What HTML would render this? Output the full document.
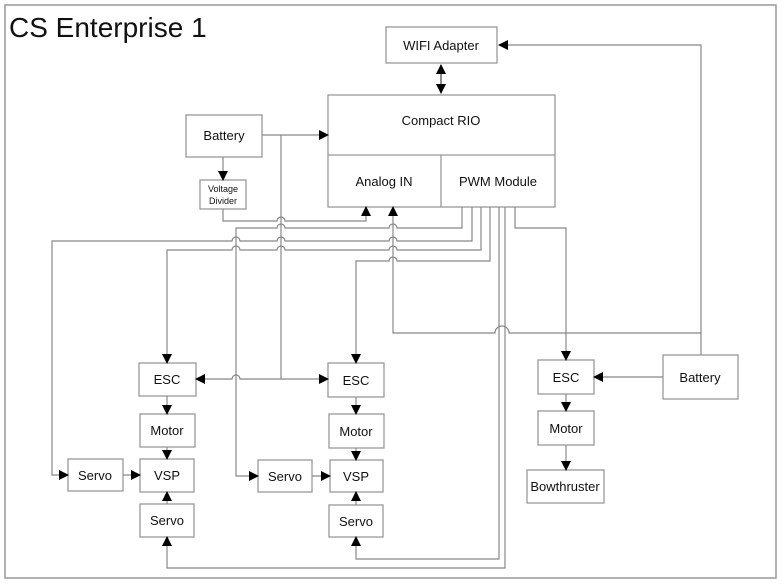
<!DOCTYPE html>
<html><head><meta charset="utf-8"><style>
html,body{margin:0;padding:0;background:#fff;}
svg{display:block;}
text{font-family:"Liberation Sans",sans-serif;fill:#111;}
</style></head><body>
<svg width="782" height="586" viewBox="0 0 782 586" xmlns="http://www.w3.org/2000/svg">
<defs>
<marker id="a" markerWidth="10" markerHeight="10" refX="9" refY="5" orient="auto" markerUnits="userSpaceOnUse">
<path d="M0,0 L10,5 L0,10 z" fill="#000"/></marker>
<marker id="s" markerWidth="10" markerHeight="10" refX="1" refY="5" orient="auto" markerUnits="userSpaceOnUse">
<path d="M10,0 L0,5 L10,10 z" fill="#000"/></marker>
</defs>
<rect x="5" y="5" width="771" height="573" fill="none" stroke="#999" stroke-width="1.5"/>
<text x="9" y="37" font-size="28">CS Enterprise 1</text>
<g fill="#fff" stroke="#999" stroke-width="1.3">
<rect x="386" y="27" width="111" height="36"/>
<rect x="328" y="95" width="227" height="112"/>
<line x1="328" y1="155" x2="555" y2="155"/>
<line x1="441" y1="155" x2="441" y2="207"/>
<rect x="186" y="115" width="76" height="42"/>
<rect x="200" y="180" width="46" height="29"/>
<rect x="139" y="363" width="57" height="33"/>
<rect x="328" y="363" width="56" height="34"/>
<rect x="140" y="414" width="55" height="33"/>
<rect x="329" y="414" width="55" height="34"/>
<rect x="140" y="459" width="54" height="33"/>
<rect x="330" y="460" width="53" height="32"/>
<rect x="68" y="459" width="55" height="32"/>
<rect x="258" y="460" width="54" height="32"/>
<rect x="140" y="504" width="54" height="33"/>
<rect x="329" y="505" width="54" height="32"/>
<rect x="538" y="360" width="56" height="34"/>
<rect x="538" y="411" width="56" height="34"/>
<rect x="527" y="470" width="77" height="33"/>
<rect x="663" y="355" width="75" height="44"/>
</g>
<g font-size="13" text-anchor="middle">
<text x="441" y="50">WIFI Adapter</text>
<text x="441" y="125">Compact RIO</text>
<text x="384" y="186">Analog IN</text>
<text x="498" y="186">PWM Module</text>
<text x="224" y="140">Battery</text>
<text x="223" y="192" font-size="9">Voltage</text>
<text x="223" y="204" font-size="9">Divider</text>
<text x="167" y="384">ESC</text>
<text x="356" y="385">ESC</text>
<text x="167" y="435">Motor</text>
<text x="356" y="436">Motor</text>
<text x="167" y="480">VSP</text>
<text x="356" y="481">VSP</text>
<text x="95" y="480">Servo</text>
<text x="285" y="481">Servo</text>
<text x="167" y="525">Servo</text>
<text x="356" y="526">Servo</text>
<text x="566" y="382">ESC</text>
<text x="566" y="433">Motor</text>
<text x="565" y="491">Bowthruster</text>
<text x="700" y="382">Battery</text>
</g>
<g fill="none" stroke="#888" stroke-width="1.2">
<path d="M441 65 V93" stroke="#444" marker-start="url(#s)" marker-end="url(#a)"/>
<path d="M701 355 V45 H499" marker-end="url(#a)"/>
<path d="M262 135 H328" marker-end="url(#a)"/>
<path d="M223 157 V180" marker-end="url(#a)"/>
<path d="M281 135 V379 H240 A4 4 0 0 0 232 379 H196" marker-end="url(#a)"/>
<path d="M281 379 H328" marker-end="url(#a)"/>
<path d="M223 209 V221 H277 A4 4 0 0 1 285 221 H366 V207" marker-end="url(#a)"/>
<path d="M462 207 V228 H397 A4 4 0 0 0 389 228 H285 A4 4 0 0 0 277 228 H236 V476 H258" marker-end="url(#a)"/>
<path d="M472 207 V241 H397 A4 4 0 0 0 389 241 H285 A4 4 0 0 0 277 241 H240 A4 4 0 0 0 232 241 H52 V475 H68" marker-end="url(#a)"/>
<path d="M481 207 V250 H397 A4 4 0 0 0 389 250 H285 A4 4 0 0 0 277 250 H240 A4 4 0 0 0 232 250 H167 V363" marker-end="url(#a)"/>
<path d="M490 207 V261 H397 A4 4 0 0 0 389 261 H356 V363" marker-end="url(#a)"/>
<path d="M499 207 V559 H356 V537" marker-end="url(#a)"/>
<path d="M505 207 V568 H167 V537" marker-end="url(#a)"/>
<path d="M515 207 V228 H566 V360" marker-end="url(#a)"/>
<path d="M393 207 V333 H495 A7 7 0 0 1 509 333 H701" marker-start="url(#s)"/>
<path d="M663 377 H594" marker-end="url(#a)"/>
<path d="M167 396 V414" marker-end="url(#a)"/>
<path d="M356 397 V414" marker-end="url(#a)"/>
<path d="M167 447 V459" marker-end="url(#a)"/>
<path d="M356 448 V460" marker-end="url(#a)"/>
<path d="M123 475 H140" marker-end="url(#a)"/>
<path d="M312 476 H330" marker-end="url(#a)"/>
<path d="M167 504 V492" marker-end="url(#a)"/>
<path d="M356 505 V492" marker-end="url(#a)"/>
<path d="M566 394 V411" marker-end="url(#a)"/>
<path d="M566 445 V470" marker-end="url(#a)"/>
</g>
</svg>
</body></html>
